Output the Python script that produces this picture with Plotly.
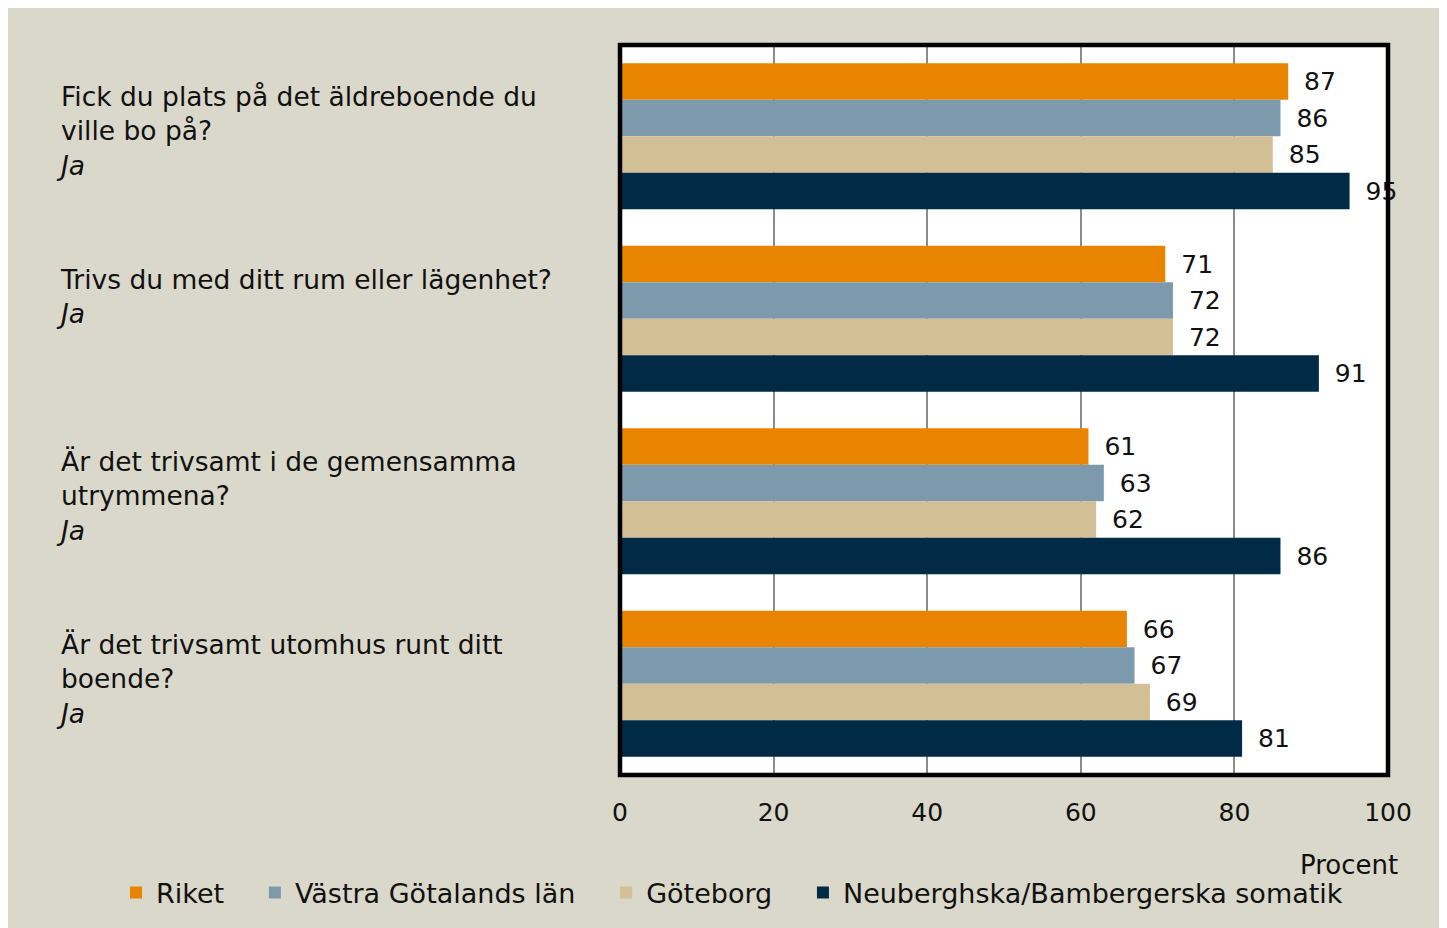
import plotly.graph_objects as go

categories = [
    "Fick du plats på det äldreboende du<br>ville bo på?<br><i>Ja</i>",
    "Trivs du med ditt rum eller lägenhet?<br><i>Ja</i>",
    "Är det trivsamt i de gemensamma<br>utrymmena?<br><i>Ja</i>",
    "Är det trivsamt utomhus runt ditt<br>boende?<br><i>Ja</i>",
]
series_names = ["Riket", "Västra Götalands län", "Göteborg", "Neuberghska/Bambergerska somatik"]
riket = [87, 71, 61, 66]
vgr = [86, 72, 63, 67]
goteborg = [85, 72, 62, 69]
neuberghska = [95, 91, 86, 81]
series_values = [riket, vgr, goteborg, neuberghska]
colors = ["#E98400", "#7D9AAC", "#D3BF96", "#002A45"]
x_ticks = [0, 20, 40, 60, 80, 100]

FONT = "DejaVu Sans"
W, H = 1460, 940
L, T = 612, 37
pw, ph = 768, 730
R, B = W - L - pw, H - T - ph

def px_x(px):
    return (px - L) / pw

def px_y(py):
    return (T + ph - py) / ph

cat_ids = list(range(len(categories)))

fig = go.Figure()
for name, vals, col in zip(series_names, series_values, colors):
    fig.add_trace(go.Bar(
        y=cat_ids, x=vals, name=name + "\u00a0\u00a0\u00a0", orientation="h",
        marker=dict(color=col, line=dict(width=0)),
        text=vals, texttemplate="\u00a0\u2009%{x}",
        textposition="outside", constraintext="none", cliponaxis=False,
        textfont=dict(family=FONT, size=25, color="#111111"),
    ))

annotations = []
for i, c in enumerate(categories):
    annotations.append(dict(
        text=c, xref="paper", yref="y", x=px_x(46), y=i,
        xanchor="left", yanchor="top", yshift=57, align="left",
        showarrow=False, font=dict(family=FONT, size=26.5, color="#111111"),
    ))
annotations.append(dict(
    text="Procent", xref="paper", yref="paper", x=px_x(1392), y=px_y(857),
    xanchor="right", yanchor="middle", showarrow=False,
    font=dict(family=FONT, size=26, color="#111111"),
))

shapes = [
    dict(type="rect", xref="paper", yref="paper", x0=0, x1=1, y0=0, y1=1,
         line=dict(color="black", width=4.5), layer="above"),
]

fig.update_layout(
    width=W, height=H,
    margin=dict(l=L, r=R, t=T, b=B, autoexpand=False),
    paper_bgcolor="#DAD8CB", plot_bgcolor="white",
    barmode="group", bargap=0.2, bargroupgap=0,
    font=dict(family=FONT, size=25, color="#111111"),
    xaxis=dict(range=[0, 100], tickvals=x_ticks, showgrid=True, gridcolor="#8C8C8C",
               gridwidth=2, zeroline=False, showline=False, ticks="",
               ticklabelstandoff=20, tickfont=dict(family=FONT, size=25, color="#111111")),
    yaxis=dict(range=[3.5, -0.5], tickvals=cat_ids, showticklabels=False,
               showgrid=False, zeroline=False, showline=False),
    legend=dict(orientation="h", x=px_x(108), y=px_y(885), xanchor="left", yanchor="middle",
                font=dict(family=FONT, size=27, color="#111111"), traceorder="normal",
                bgcolor="rgba(0,0,0,0)", itemwidth=30),
    annotations=annotations, shapes=shapes, showlegend=True,
)

fig.write_html("out.html")
